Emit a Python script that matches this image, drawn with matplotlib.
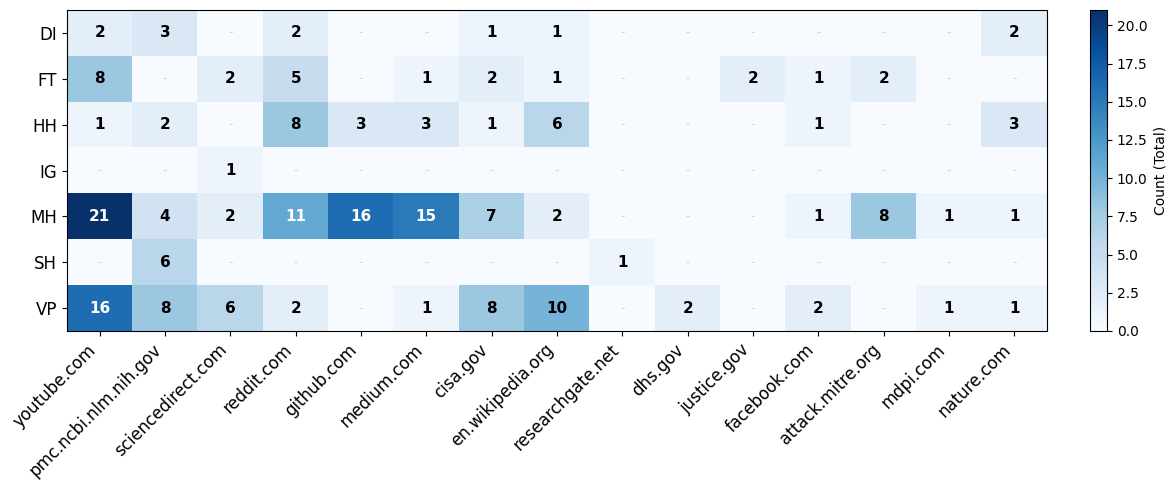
import matplotlib
matplotlib.use("Agg")
import matplotlib.pyplot as plt
import numpy as np

rows = ["DI", "FT", "HH", "IG", "MH", "SH", "VP"]
cols = ["youtube.com", "pmc.ncbi.nlm.nih.gov", "sciencedirect.com", "reddit.com",
        "github.com", "medium.com", "cisa.gov", "en.wikipedia.org", "researchgate.net",
        "dhs.gov", "justice.gov", "facebook.com", "attack.mitre.org", "mdpi.com", "nature.com"]

DI = [2, 3, 0, 2, 0, 0, 1, 1, 0, 0, 0, 0, 0, 0, 2]
FT = [8, 0, 2, 5, 0, 1, 2, 1, 0, 0, 2, 1, 2, 0, 0]
HH = [1, 2, 0, 8, 3, 3, 1, 6, 0, 0, 0, 1, 0, 0, 3]
IG = [0, 0, 1, 0, 0, 0, 0, 0, 0, 0, 0, 0, 0, 0, 0]
MH = [21, 4, 2, 11, 16, 15, 7, 2, 0, 0, 0, 1, 8, 1, 1]
SH = [0, 6, 0, 0, 0, 0, 0, 0, 1, 0, 0, 0, 0, 0, 0]
VP = [16, 8, 6, 2, 0, 1, 8, 10, 0, 2, 0, 2, 0, 1, 1]

data = np.array([DI, FT, HH, IG, MH, SH, VP])
vmax = data.max()

W, H = 1175, 490
fig = plt.figure(figsize=(W / 100, H / 100), dpi=100)
ax = fig.add_axes([67 / W, (H - 331) / H, (1047 - 67) / W, (331 - 10) / H])
cax = fig.add_axes([1090 / W, (H - 331) / H, 17 / W, (331 - 10) / H])

im = ax.imshow(data, cmap="Blues", aspect="auto", vmin=0, vmax=vmax)

ax.set_xticks(range(len(cols)))
ax.set_xticklabels(cols, rotation=45, ha="right", fontsize=12)
ax.set_yticks(range(len(rows)))
ax.set_yticklabels(rows, fontsize=12)

for i in range(data.shape[0]):
    for j in range(data.shape[1]):
        v = data[i, j]
        if v == 0:
            ax.text(j, i, "-", ha="center", va="center", color="lightgray", fontsize=9)
        else:
            color = "white" if v > vmax / 2 else "black"
            ax.text(j, i, str(v), ha="center", va="center", color=color,
                    fontsize=11, fontweight="bold")

cbar = fig.colorbar(im, cax=cax)
cbar.set_label("Count (Total)")

fig.savefig("out.png", dpi=100)
